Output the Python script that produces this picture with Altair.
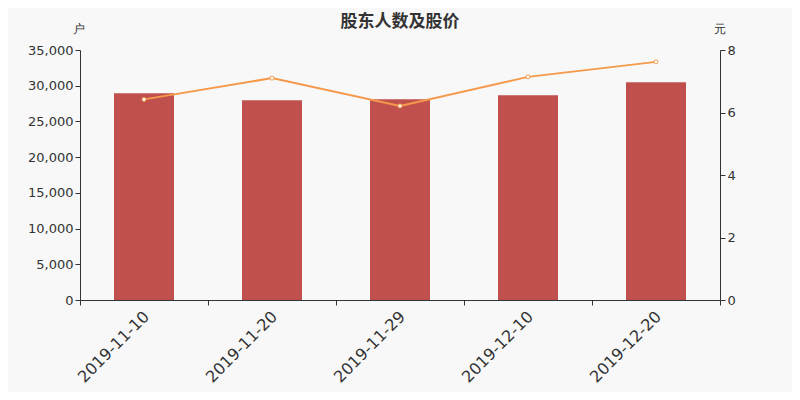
import altair as alt
import pandas as pd

dates = ["2019-11-10", "2019-11-20", "2019-11-29", "2019-12-10", "2019-12-20"]
holders = [28950, 27950, 28100, 28650, 30500]
prices = [6.42, 7.10, 6.21, 7.14, 7.62]

df = pd.DataFrame({"date": dates, "holders": holders, "price": prices})

FONT = "DejaVu Sans"

x = alt.X(
    "date:N",
    sort=None,
    scale=alt.Scale(paddingInner=0, paddingOuter=0),
    axis=alt.Axis(
        title=None,
        labelAngle=-45,
        labelFontSize=16,
        labelColor="#333333",
        labelFont=FONT,
        labelPadding=3,
        labelOffset=-3,
        domainColor="#333333",
        tickColor="#333333",
        tickSize=5,
        bandPosition=1,
        tickExtra=True,
        grid=False,
    ),
)

bars = alt.Chart(df).mark_bar(width=60, color="#c0504d").encode(
    x=x,
    y=alt.Y(
        "holders:Q",
        scale=alt.Scale(domain=[0, 35000], nice=False),
        axis=alt.Axis(
            title="户",
            titleAngle=0,
            titleX=-2,
            titleY=-22,
            titleAlign="center",
            titleBaseline="middle",
            titleFontSize=12,
            titleFontWeight="normal",
            titleColor="#333333",
            titleFont=FONT,
            values=[0, 5000, 10000, 15000, 20000, 25000, 30000, 35000],
            format=",.0f",
            labelFontSize=13,
            labelColor="#333333",
            labelFont=FONT,
            domainColor="#333333",
            tickColor="#333333",
            tickSize=5,
            grid=False,
        ),
    ),
)

line = alt.Chart(df).mark_line(
    color="#f5994a",
    strokeWidth=2,
    point=alt.OverlayMarkDef(filled=True, fill="white", stroke="#f5994a", strokeWidth=1, size=16),
).encode(
    x=x,
    y=alt.Y(
        "price:Q",
        scale=alt.Scale(domain=[0, 8], nice=False),
        axis=alt.Axis(
            title="元",
            orient="right",
            titleAngle=0,
            titleX=-1,
            titleY=-22,
            titleAlign="center",
            titleBaseline="middle",
            titleFontSize=12,
            titleFontWeight="normal",
            titleColor="#333333",
            titleFont=FONT,
            values=[0, 2, 4, 6, 8],
            labelFontSize=13,
            labelColor="#333333",
            labelFont=FONT,
            domainColor="#333333",
            tickColor="#333333",
            tickSize=5,
            grid=False,
        ),
    ),
)

chart = (
    alt.layer(bars, line)
    .resolve_scale(y="independent")
    .properties(
        width=640,
        height=250,
        background="#f8f8f8",
        autosize=alt.AutoSizeParams(type="none"),
        padding={"left": 72, "top": 42, "right": 72, "bottom": 92},
        title=alt.TitleParams(
            "股东人数及股价",
            fontSize=17,
            fontWeight="bold",
            color="#333333",
            font="Noto Sans CJK SC",
            anchor="middle",
            frame="group",
            offset=-9,
        ),
    )
    .configure_view(stroke=None)
)

chart.save("out.html", embed_options={"renderer": "svg", "actions": False})
